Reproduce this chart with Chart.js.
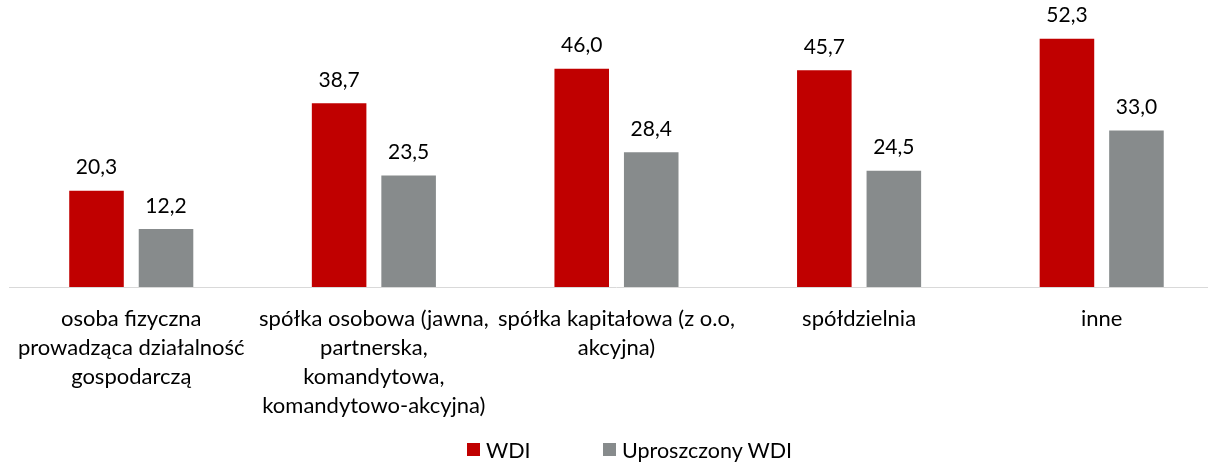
<!DOCTYPE html>
<html lang="pl">
<head>
<meta charset="utf-8">
<script src="https://cdn.jsdelivr.net/npm/chart.js@4/dist/chart.umd.min.js"></script>
<style>
  html, body { margin: 0; padding: 0; background: #fff; overflow: hidden; width: 1208px; height: 462px; }
  #wrap { position: absolute; left: 0; top: 0; width: 1223px; height: 462px; }
  #legend { position: absolute; top: 437px; left: 0; width: 1208px; height: 25px; font-family: Lato, sans-serif; font-size: 21.5px; color: #000; }
  .item { position: absolute; top: 0; display: flex; align-items: center; height: 25px; }
  .box { width: 13px; height: 13px; margin-right: 6px; }
</style>
</head>
<body>
<div id="wrap"><canvas id="c"></canvas></div>
<div id="legend"></div>
<script>
// Forma prawna podmiotu
const categories = [
  ['osoba fizyczna', 'prowadząca działalność', 'gospodarczą'],
  ['spółka osobowa (jawna,', 'partnerska,', 'komandytowa,', 'komandytowo-akcyjna)'],
  ['spółka kapitałowa (z o.o,', 'akcyjna)'],
  ['spółdzielnia'],
  ['inne']
];
const seriesNames = ['WDI', 'Uproszczony WDI'];
const wdi = [20.3, 38.7, 46.0, 45.7, 52.3];
const uproszczonyWdi = [12.2, 23.5, 28.4, 24.5, 33.0];
const seriesColors = ['#C00000', '#878B8C'];

const FONT = 'Lato, sans-serif';

// value labels above each bar, Polish decimal comma
const valueLabels = {
  id: 'valueLabels',
  afterDatasetsDraw(chart) {
    const ctx = chart.ctx;
    ctx.save();
    ctx.font = '21px ' + FONT;
    ctx.fillStyle = '#000';
    ctx.textAlign = 'center';
    ctx.textBaseline = 'alphabetic';
    chart.data.datasets.forEach((ds, i) => {
      chart.getDatasetMeta(i).data.forEach((bar, j) => {
        const txt = ds.data[j].toFixed(1).replace('.', ',');
        ctx.fillText(txt, bar.x, bar.y - 16.5);
      });
    });
    ctx.restore();
  }
};

new Chart(document.getElementById('c'), {
  type: 'bar',
  data: {
    labels: categories,
    datasets: [
      { label: seriesNames[0], data: wdi, backgroundColor: seriesColors[0] },
      { label: seriesNames[1], data: uproszczonyWdi, backgroundColor: seriesColors[1] }
    ]
  },
  options: {
    responsive: true,
    maintainAspectRatio: false,
    animation: false,
    layout: { padding: { left: 9, top: 2.3, right: 0, bottom: 0 } },
    datasets: { bar: { categoryPercentage: 0.573, barPercentage: 0.785 } },
    plugins: { legend: { display: false }, tooltip: { enabled: false } },
    scales: {
      y: { display: false, min: 0, max: 60 },
      x: {
        grid: { display: false, drawTicks: false },
        border: { display: true, color: '#D9D9D9', width: 1 },
        ticks: { padding: 17, color: '#000', font: { family: FONT, size: 22, lineHeight: '29px' }, maxRotation: 0, autoSkip: false },
        afterFit(scale) { scale.height = 175; }
      }
    }
  },
  plugins: [valueLabels]
});

// legend row
const legend = document.getElementById('legend');
const legendLeft = [467, 603];
seriesNames.forEach((name, i) => {
  const it = document.createElement('div');
  it.className = 'item';
  it.style.left = legendLeft[i] + 'px';
  const b = document.createElement('span');
  b.className = 'box';
  b.style.background = seriesColors[i];
  const t = document.createElement('span');
  t.textContent = name;
  it.appendChild(b); it.appendChild(t);
  legend.appendChild(it);
});
</script>
</body>
</html>
